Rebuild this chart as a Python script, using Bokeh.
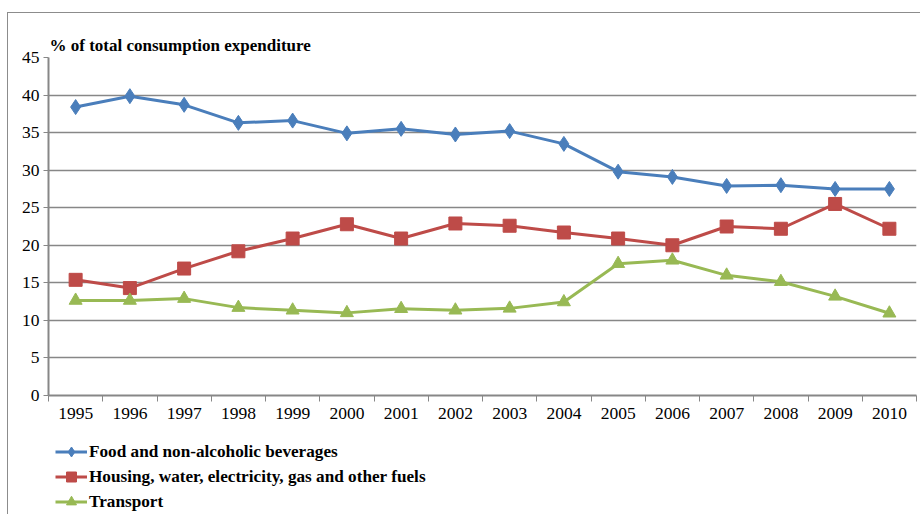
import numpy as np
from bokeh.plotting import figure
from bokeh.layouts import column
from bokeh.models import Range1d, FixedTicker, Legend, LegendItem, Title
from bokeh.embed import file_html
from bokeh.resources import INLINE

# Household consumption structure, % of total consumption expenditure
years = ["1995", "1996", "1997", "1998", "1999", "2000", "2001", "2002",
         "2003", "2004", "2005", "2006", "2007", "2008", "2009", "2010"]
food = [38.4, 39.85, 38.7, 36.3, 36.6, 34.9, 35.5, 34.75,
        35.2, 33.5, 29.8, 29.1, 27.9, 28.0, 27.5, 27.5]
housing = [15.4, 14.3, 16.9, 19.2, 20.9, 22.8, 20.9, 22.9,
           22.6, 21.7, 20.9, 20.0, 22.5, 22.2, 25.5, 22.2]
transport = [12.65, 12.65, 12.9, 11.7, 11.35, 11.0, 11.55, 11.35,
             11.6, 12.45, 17.55, 18.0, 16.0, 15.15, 13.2, 10.95]

series_names = ["Food and non-alcoholic beverages",
                "Housing, water, electricity, gas and other fuels",
                "Transport"]
y_ticks = [0, 5, 10, 15, 20, 25, 30, 35, 40, 45]

SERIF = "Liberation Serif"
GRID = "#878787"
FRAME = "#8C8C8C"
colors = ["#4A7EBB", "#BE4B48", "#98B954"]
markers = ["diamond", "square", "triangle"]
sizes = [15, 13, 13]

# category centres sit halfway between the category boundaries
x = np.arange(len(years)) + 0.5

p = figure(width=912, height=419, output_backend="svg", toolbar_location=None,
           x_range=Range1d(0, len(years)), y_range=Range1d(0, 45),
           min_border_left=40, min_border_right=4, min_border_top=44,
           min_border_bottom=37)
p.outline_line_color = None
p.background_fill_color = "white"
p.border_fill_color = "white"

p.title = Title(text="% of total consumption expenditure", align="left",
                text_font=SERIF, text_font_size="17px", text_font_style="bold",
                text_color="black", offset=1, standoff=5)

# x axis: labels at category centres, tick marks on the boundaries
p.xaxis.ticker = FixedTicker(ticks=list(x), minor_ticks=list(range(len(years) + 1)))
p.xaxis.major_label_overrides = {float(v): yr for v, yr in zip(x, years)}
p.xaxis.major_tick_line_color = None
p.xaxis.minor_tick_out = 6
p.xaxis.minor_tick_in = 0
p.xaxis.minor_tick_line_color = GRID
p.xaxis.axis_line_color = GRID
p.xaxis.axis_line_width = 2
p.xaxis.major_label_text_font = SERIF
p.xaxis.major_label_text_font_size = "17.5px"
p.xaxis.major_label_text_color = "black"
p.xaxis.major_label_standoff = 6
p.xgrid.grid_line_color = None

p.yaxis.ticker = FixedTicker(ticks=y_ticks)
p.yaxis.minor_tick_line_color = None
p.yaxis.major_tick_out = 5
p.yaxis.major_tick_in = 0
p.yaxis.major_tick_line_color = GRID
p.yaxis.axis_line_color = GRID
p.yaxis.axis_line_width = 2
p.yaxis.major_label_text_font = SERIF
p.yaxis.major_label_text_font_size = "17.5px"
p.yaxis.major_label_text_color = "black"
p.yaxis.major_label_standoff = 4
p.ygrid.grid_line_color = GRID
p.ygrid.grid_line_width = 1.3

for vals, col, mk, sz in zip([food, housing, transport], colors, markers, sizes):
    p.line(x, vals, line_color=col, line_width=3)
    p.scatter(x, vals, marker=mk, size=sz, fill_color=col, line_color=col)

# legend strip under the chart; its ranges keep the series themselves out of view,
# they only supply the legend samples
lf = figure(width=912, height=82, output_backend="svg", toolbar_location=None,
            x_axis_type=None, y_axis_type=None, x_range=Range1d(0, 1),
            y_range=Range1d(-2, -1), min_border=0)
lf.outline_line_color = None
lf.xgrid.grid_line_color = None
lf.ygrid.grid_line_color = None
items = []
for vals, name, col, mk in zip([food, housing, transport], series_names, colors, markers):
    ln = lf.line(x, vals, line_color=col, line_width=3)
    sc = lf.scatter(x, vals, marker=mk, fill_color=col, line_color=col)
    items.append(LegendItem(label=name, renderers=[ln, sc]))
legend = Legend(items=items, location=(7, 0), orientation="vertical",
                label_text_font=SERIF, label_text_font_size="17.2px",
                label_text_font_style="bold", label_text_color="black",
                glyph_width=32, glyph_height=25, label_height=25,
                label_standoff=2, spacing=0, padding=0, margin=0,
                border_line_color=None, background_fill_alpha=0)
lf.add_layout(legend, "center")

# chart area frame: thin grey rule on the left and top edges
layout = column(p, lf, spacing=0,
                styles={"margin-left": "7px", "margin-top": "12px",
                        "border-left": f"1px solid {FRAME}",
                        "border-top": f"1px solid {FRAME}"})

open("out.html", "w").write(file_html(layout, INLINE))
